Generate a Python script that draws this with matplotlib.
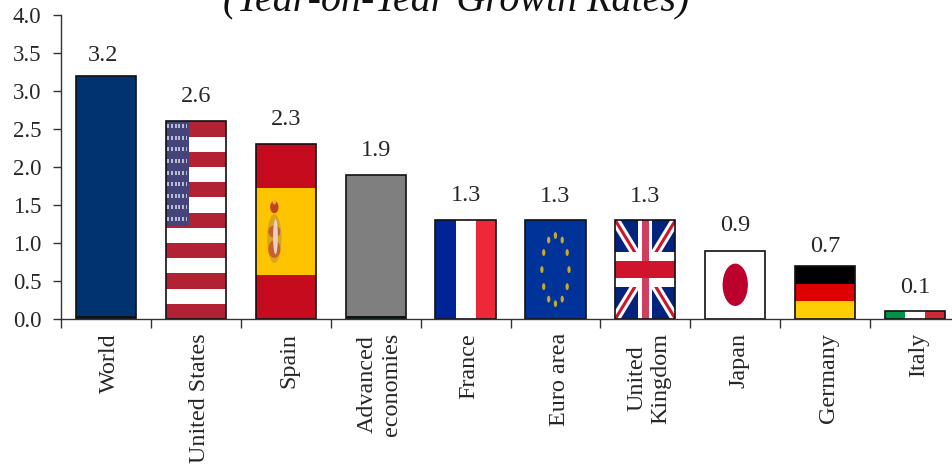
import numpy as np
import matplotlib
matplotlib.use("Agg")
import matplotlib.pyplot as plt
from matplotlib.patches import Rectangle, Ellipse

categories = ["World", "United States", "Spain", "Advanced\neconomies", "France",
              "Euro area", "United\nKingdom", "Japan", "Germany", "Italy"]
growth = [3.2, 2.6, 2.3, 1.9, 1.3, 1.3, 1.3, 0.9, 0.7, 0.1]
y_ticks = [0.0, 0.5, 1.0, 1.5, 2.0, 2.5, 3.0, 3.5, 4.0]
title_text = "(Year-on-Year Growth Rates)"

W, H = 953, 465
LEFT, RIGHT, TOP, BOTTOM = 61, 953, 15, 319
STEP = 89.9
FONT = "Liberation Serif"
INK = "#262626"
AXIS = "#333333"

fig = plt.figure(figsize=(W / 100, H / 100), dpi=100)
ax = fig.add_axes([LEFT / W, 1 - BOTTOM / H, (RIGHT - LEFT) / W, (BOTTOM - TOP) / H])
ax.set_xlim(0, (RIGHT - LEFT) / STEP)
ax.set_ylim(0, 4)

positions = np.arange(len(growth)) + 0.5
bar_width = 0.67
bars = ax.bar(positions, growth, width=bar_width, color="white", zorder=2, linewidth=0)
ax.bar(positions, growth, width=bar_width, fill=False, edgecolor="#111111",
       linewidth=1.2, zorder=6)


def band(bar, x0, y0, x1, y1, color, z=3):
    """Fill a rectangle given in fractions of the bar."""
    bx, bw, bh = bar.get_x(), bar.get_width(), bar.get_height()
    r = Rectangle((bx + x0 * bw, y0 * bh), (x1 - x0) * bw, (y1 - y0) * bh,
                  facecolor=color, edgecolor="none", zorder=z)
    ax.add_patch(r)
    r.set_clip_path(bar)
    return r


def blob(bar, fx, fy, fw, fh, color, z=5):
    bx, bw, bh = bar.get_x(), bar.get_width(), bar.get_height()
    ax.add_patch(Ellipse((bx + fx * bw, fy * bh), fw * bw, fh * bh,
                         facecolor=color, edgecolor="none", zorder=z))


def diagonal(bar, x0, y0, x1, y1, color, lw, z=3):
    bx, bw, bh = bar.get_x(), bar.get_width(), bar.get_height()
    ln, = ax.plot([bx + x0 * bw, bx + x1 * bw], [y0 * bh, y1 * bh],
                  color=color, lw=lw, zorder=z, solid_capstyle="butt")
    ln.set_clip_path(bar)


def plain(bar, main, strip):
    h = bar.get_height()
    band(bar, 0, 0, 1, 1, main)
    band(bar, 0, 0, 1, 0.012 / h, strip, 4)
    band(bar, 0, 0.012 / h, 1, 0.035 / h, "#111111", 4)


def usa(bar):
    band(bar, 0, 0, 1, 1, "white")
    for k in range(13):
        if k % 2 == 0:
            band(bar, 0, 1 - (k + 1) / 13, 1, 1 - k / 13, "#B22234")
    band(bar, 0, 0.47, 0.39, 1, "#44447A", 4)
    for row in range(9):
        for col in range(6):
            fx = 0.045 + col * 0.06
            fy = 0.975 - row * 0.0585
            band(bar, fx - 0.016, fy - 0.01, fx + 0.016, fy + 0.01, "#B8BAD6", 5)


def spain(bar):
    band(bar, 0, 0, 1, 1, "#C60B1E")
    band(bar, 0, 0.25, 1, 0.75, "#FFC400")
    blob(bar, 0.31, 0.46, 0.24, 0.28, "#D9A520", 4)
    blob(bar, 0.31, 0.64, 0.14, 0.07, "#C0451F")
    blob(bar, 0.31, 0.67, 0.06, 0.03, "#E0B040")
    blob(bar, 0.31, 0.40, 0.20, 0.10, "#C8602A")
    blob(bar, 0.31, 0.50, 0.20, 0.07, "#C8602A")
    blob(bar, 0.33, 0.47, 0.08, 0.20, "#E8D0C8", 6)


def vertical_tricolor(bar, c1, c2, c3):
    band(bar, 0, 0, 1 / 3, 1, c1)
    band(bar, 1 / 3, 0, 2 / 3, 1, c2)
    band(bar, 2 / 3, 0, 1, 1, c3)


def europe(bar):
    band(bar, 0, 0, 1, 1, "#003399")
    bx, bw, bh = bar.get_x(), bar.get_width(), bar.get_height()
    for ang in np.deg2rad(np.arange(0, 360, 30)):
        blob(bar, 0.5 + 0.225 * np.cos(ang), 0.5 + 0.345 * np.sin(ang),
             0.055, 0.07, "#C9A926", 4)


def britain(bar):
    band(bar, 0, 0, 1, 1, "#00247D")
    for a, b in [((0, 0), (1, 1)), ((0, 1), (1, 0))]:
        diagonal(bar, a[0], a[1], b[0], b[1], "white", 6.5)
        diagonal(bar, a[0], a[1], b[0], b[1], "#CF142B", 2.2)
    band(bar, 0.385, 0, 0.615, 1, "white", 4)
    band(bar, 0, 0.323, 1, 0.677, "white", 4)
    band(bar, 0.44, 0, 0.56, 1, "#CF4060", 4)
    band(bar, 0, 0.41, 1, 0.59, "#CF142B", 4)


def japan(bar):
    band(bar, 0, 0, 1, 1, "white")
    blob(bar, 0.5, 0.5, 0.42, 0.62, "#BC002D", 4)


def germany(bar):
    band(bar, 0, 2 / 3, 1, 1, "black")
    band(bar, 0, 1 / 3, 1, 2 / 3, "#DD0000")
    band(bar, 0, 0, 1, 1 / 3, "#FFCE00")


plain(bars[0], "#003370", "#003D80")
usa(bars[1])
spain(bars[2])
plain(bars[3], "#7F7F7F", "#0B5A2A")
vertical_tricolor(bars[4], "#002395", "white", "#ED2939")
europe(bars[5])
britain(bars[6])
japan(bars[7])
germany(bars[8])
vertical_tricolor(bars[9], "#009246", "white", "#CE2B37")

# Value captions sit above each bar; a few are nudged clear of their neighbours.
lift_px = [20, 25, 25, 24, 25, 24, 24, 25, 19, 24]
shift_px = [-3, 0, 0, 0, 0, 0, 0, 0, 0, 0]
for bar, value, lift, shift in zip(bars, growth, lift_px, shift_px):
    ax.annotate(f"{value:.1f}", (bar.get_x() + bar.get_width() / 2, value),
                xytext=(shift * 0.72, lift * 0.72), textcoords="offset points",
                ha="center", va="center", fontsize=17.5, family=FONT, color=INK,
                annotation_clip=False)

# Axes
for side in ("top", "right"):
    ax.spines[side].set_visible(False)
for side in ("left", "bottom"):
    ax.spines[side].set_color(AXIS)
    ax.spines[side].set_linewidth(1.0)
    ax.spines[side].set_zorder(7)

ax.set_yticks(y_ticks)
ax.set_yticklabels([f"{t:.1f}" for t in y_ticks], fontsize=16.5, family=FONT, color=INK)
ax.tick_params(axis="y", length=6, width=1.0, color=AXIS, pad=8)

ax.set_xticks(np.arange(len(growth)))
ax.set_xticklabels([])
ax.tick_params(axis="x", which="major", length=6.5, width=1.0, color=AXIS)
ax.set_xticks(positions + 0.04, minor=True)
ax.set_xticklabels(categories, minor=True, rotation=90, ha="center", va="top",
                   fontsize=17.4, family=FONT, color=INK, linespacing=1.2)
ax.tick_params(axis="x", which="minor", length=0, pad=10)

fig.text(456 / W, 1 - 10 / H, title_text, ha="center", va="baseline",
         fontsize=28.8, style="italic", family=FONT, color="#111111")

fig.savefig("out.png", dpi=100)
